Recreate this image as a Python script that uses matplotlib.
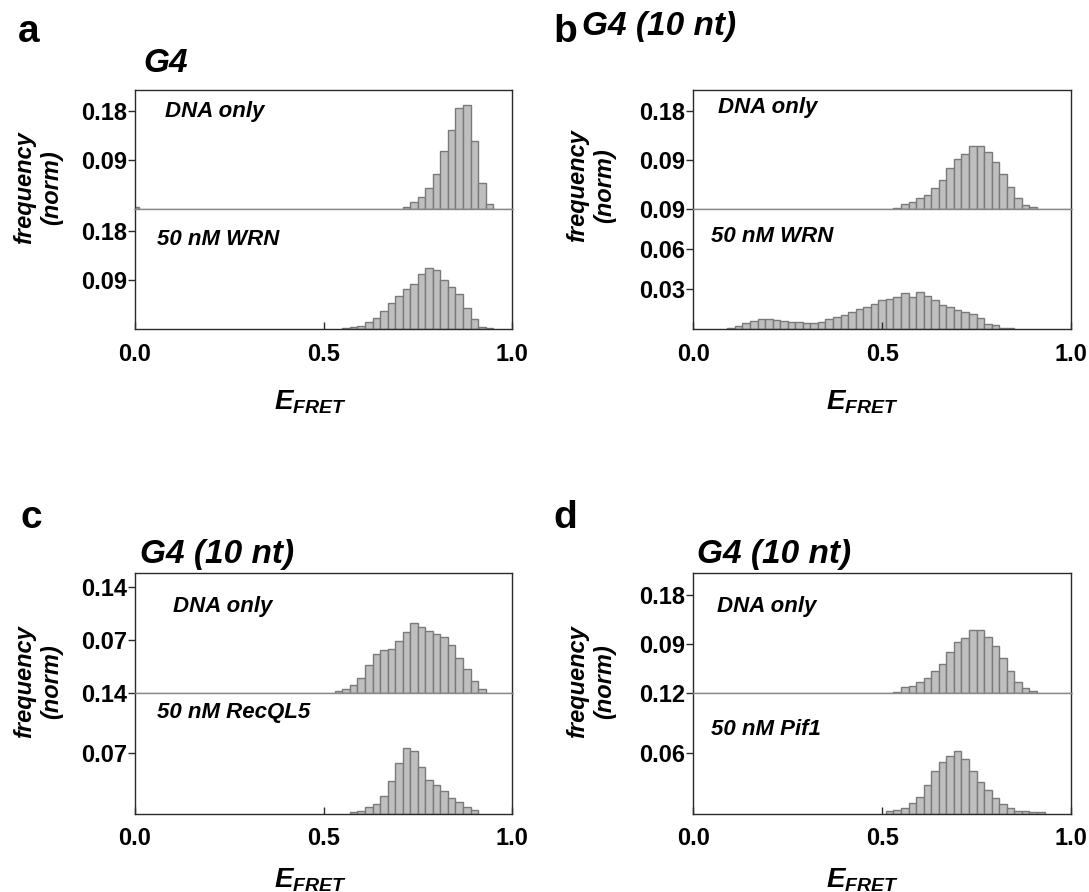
import numpy as np
import matplotlib
matplotlib.use("Agg")
import matplotlib.pyplot as plt

plt.rcParams["font.family"] = ["Liberation Sans", "DejaVu Sans"]
plt.rcParams["font.weight"] = "bold"
plt.rcParams["mathtext.fontset"] = "custom"
plt.rcParams["mathtext.it"] = "Liberation Sans:bold:italic"
plt.rcParams["mathtext.rm"] = "Liberation Sans:bold"

BIN_W = 0.02

# ---- data: bin centres (E_FRET) and normalised frequencies ----
a_top_x = [0.00] + [0.72, 0.74, 0.76, 0.78, 0.80, 0.82, 0.84, 0.86, 0.88, 0.90, 0.92, 0.94]
a_top_y = [0.003, 0.004, 0.012, 0.021, 0.038, 0.064, 0.106, 0.144, 0.185, 0.190, 0.124, 0.047, 0.008]

a_bot_x = [0.56, 0.58, 0.60, 0.62, 0.64, 0.66, 0.68, 0.70, 0.72, 0.74,
           0.76, 0.78, 0.80, 0.82, 0.84, 0.86, 0.88, 0.90, 0.92, 0.94]
a_bot_y = [0.002, 0.004, 0.006, 0.013, 0.021, 0.034, 0.048, 0.061, 0.074, 0.084,
           0.101, 0.112, 0.108, 0.090, 0.078, 0.064, 0.040, 0.018, 0.004, 0.002]

b_top_x = [0.54, 0.56, 0.58, 0.60, 0.62, 0.64, 0.66, 0.68, 0.70, 0.72,
           0.74, 0.76, 0.78, 0.80, 0.82, 0.84, 0.86, 0.88, 0.90]
b_top_y = [0.002, 0.009, 0.012, 0.019, 0.026, 0.038, 0.052, 0.074, 0.091, 0.101,
           0.116, 0.116, 0.104, 0.086, 0.064, 0.039, 0.020, 0.007, 0.0025]

b_bot_x = [0.10, 0.12, 0.14, 0.16, 0.18, 0.20, 0.22, 0.24, 0.26, 0.28,
           0.30, 0.32, 0.34, 0.36, 0.38, 0.40, 0.42, 0.44, 0.46, 0.48,
           0.50, 0.52, 0.54, 0.56, 0.58, 0.60, 0.62, 0.64, 0.66, 0.68,
           0.70, 0.72, 0.74, 0.76, 0.78, 0.80, 0.82, 0.84]
b_bot_y = [0.0007, 0.0025, 0.0045, 0.0064, 0.0074, 0.0074, 0.0067, 0.0064, 0.0057, 0.0057,
           0.0045, 0.0047, 0.0057, 0.0074, 0.0089, 0.0107, 0.0126, 0.0151, 0.0169, 0.0188,
           0.0218, 0.0228, 0.0240, 0.0268, 0.0243, 0.0280, 0.0248, 0.0218, 0.0181, 0.0169,
           0.0144, 0.0131, 0.0112, 0.0082, 0.0037, 0.0030, 0.0007, 0.0007]

c_top_x = [0.54, 0.56, 0.58, 0.60, 0.62, 0.64, 0.66, 0.68, 0.70, 0.72,
           0.74, 0.76, 0.78, 0.80, 0.82, 0.84, 0.86, 0.88, 0.90, 0.92]
c_top_y = [0.0022, 0.0048, 0.010, 0.0197, 0.0363, 0.0516, 0.056, 0.0573, 0.0678, 0.080,
           0.0919, 0.0866, 0.0814, 0.077, 0.0735, 0.0626, 0.0464, 0.0315, 0.0153, 0.0053]

c_bot_x = [0.58, 0.60, 0.62, 0.64, 0.66, 0.68, 0.70, 0.72, 0.74,
           0.76, 0.78, 0.80, 0.82, 0.84, 0.86, 0.88, 0.90]
c_bot_y = [0.0012, 0.0032, 0.0072, 0.0108, 0.020, 0.0376, 0.0588, 0.076, 0.0728,
           0.054, 0.0392, 0.0332, 0.026, 0.018, 0.0132, 0.008, 0.004]

d_top_x = b_top_x
d_top_y = [0.002, 0.010, 0.013, 0.019, 0.027, 0.039, 0.052, 0.075, 0.0925, 0.101,
           0.116, 0.116, 0.103, 0.086, 0.064, 0.039, 0.019, 0.008, 0.0025]

d_bot_x = [0.52, 0.54, 0.56, 0.58, 0.60, 0.62, 0.64, 0.66, 0.68, 0.70, 0.72,
           0.74, 0.76, 0.78, 0.80, 0.82, 0.84, 0.86, 0.88, 0.90, 0.92]
d_bot_y = [0.0024, 0.0037, 0.0051, 0.0102, 0.0169, 0.0288, 0.0424, 0.0515, 0.057, 0.062, 0.0542,
           0.0424, 0.0315, 0.023, 0.0159, 0.0092, 0.0051, 0.0024, 0.0024, 0.001, 0.001]

panels = [
    # letter, title, top/bottom series, labels, y-axis setup
    dict(letter="a", title="G4", top=(a_top_x, a_top_y), bot=(a_bot_x, a_bot_y),
         top_lab="DNA only", bot_lab="50 nM WRN",
         top_ylim=0.218, top_ticks=[0.09, 0.18], top_tl=["0.09", "0.18"],
         bot_ylim=0.2215, bot_ticks=[0.09, 0.18], bot_tl=["0.09", "0.18"]),
    dict(letter="b", title="G4 (10 nt)", top=(b_top_x, b_top_y), bot=(b_bot_x, b_bot_y),
         top_lab="DNA only", bot_lab="50 nM WRN",
         top_ylim=0.218, top_ticks=[0.09, 0.18], top_tl=["0.09", "0.18"],
         bot_ylim=0.0902, bot_ticks=[0.03, 0.06, 0.09], bot_tl=["0.03", "0.06", "0.09"]),
    dict(letter="c", title="G4 (10 nt)", top=(c_top_x, c_top_y), bot=(c_bot_x, c_bot_y),
         top_lab="DNA only", bot_lab="50 nM RecQL5",
         top_ylim=0.158, top_ticks=[0.07, 0.14], top_tl=["0.07", "0.14"],
         bot_ylim=0.1405, bot_ticks=[0.07, 0.14], bot_tl=["0.07", "0.14"]),
    dict(letter="d", title="G4 (10 nt)", top=(d_top_x, d_top_y), bot=(d_bot_x, d_bot_y),
         top_lab="DNA only", bot_lab="50 nM Pif1",
         top_ylim=0.220, top_ticks=[0.09, 0.18], top_tl=["0.09", "0.18"],
         bot_ylim=0.1205, bot_ticks=[0.06, 0.12], bot_tl=["0.06", "0.12"]),
]

W, H = 1089, 892
# pixel layout (left, right, top, divider, bottom) for each panel
boxes = [(135, 512, 90, 208.7, 329.3), (693.3, 1071, 90, 208.7, 329.3),
         (135, 512, 573, 692.7, 813.5), (693.3, 1071, 573, 692.7, 813.5)]
# text anchors in pixels
letter_pos = [(18, 42), (553, 42), (20, 528), (553, 528)]
title_pos = [(143, 72), (582, 35), (140, 563), (697, 563)]
ylab_pos = [(38, 188), (591, 186), (38, 682), (591, 682)]
xlab_pos = [(310, 402), (862, 402), (310, 880), (862, 880)]
top_lab_pos = [(0.08, 0.773), (0.065, 0.809), (0.102, 0.677), (0.064, 0.677)]
bot_lab_pos = [(0.058, 0.699), (0.046, 0.726), (0.058, 0.788), (0.046, 0.650)]

BAR_FC = "#bfbfbf"
BAR_EC = "#7a7a7a"
SPINE = "#2a2a2a"
DIV = "#888888"

fig = plt.figure(figsize=(W / 100, H / 100), dpi=100)


def fx(px):
    return px / W


def fy(py):
    return 1 - py / H


for i, p in enumerate(panels):
    l, r, t, m, b = boxes[i]
    ax_t = fig.add_axes([fx(l), fy(m), (r - l) / W, (m - t) / H])
    ax_b = fig.add_axes([fx(l), fy(b), (r - l) / W, (b - m) / H])

    for ax, (xs, ys), ylim, ticks, tl in [
        (ax_t, p["top"], p["top_ylim"], p["top_ticks"], p["top_tl"]),
        (ax_b, p["bot"], p["bot_ylim"], p["bot_ticks"], p["bot_tl"]),
    ]:
        ax.bar(xs, ys, width=BIN_W, color=BAR_FC, edgecolor=BAR_EC, linewidth=1.0)
        ax.set_xlim(0, 1)
        ax.set_ylim(0, ylim)
        ax.set_yticks(ticks)
        ax.set_yticklabels(tl, fontsize=17, fontweight="bold")
        ax.tick_params(axis="y", direction="out", length=5, width=1, pad=1, color=SPINE)
        for s in ax.spines.values():
            s.set_color(SPINE)
            s.set_linewidth(1.0)

    ax_t.set_xticks([])
    ax_t.spines["bottom"].set_color(DIV)
    ax_b.spines["top"].set_color(DIV)
    ax_b.set_xticks([0.0, 0.5, 1.0])
    ax_b.set_xticklabels(["0.0", "0.5", "1.0"], fontsize=17, fontweight="bold")
    ax_b.tick_params(axis="x", direction="in", length=5, width=1, pad=10, color=SPINE)

    ax_t.text(*top_lab_pos[i], p["top_lab"], transform=ax_t.transAxes,
              fontsize=16, fontweight="bold", style="italic", va="baseline", ha="left")
    ax_b.text(*bot_lab_pos[i], p["bot_lab"], transform=ax_b.transAxes,
              fontsize=16, fontweight="bold", style="italic", va="baseline", ha="left")

    fig.text(fx(letter_pos[i][0]), fy(letter_pos[i][1]), p["letter"],
             fontsize=28, fontweight="bold", ha="left", va="baseline")
    fig.text(fx(title_pos[i][0]), fy(title_pos[i][1]), p["title"],
             fontsize=24, fontweight="bold", style="italic", ha="left", va="baseline")
    fig.text(fx(ylab_pos[i][0]), fy(ylab_pos[i][1]), "frequency\n(norm)",
             fontsize=17, fontweight="bold", style="italic", rotation=90,
             ha="center", va="center", multialignment="center", linespacing=1.25)
    fig.text(fx(xlab_pos[i][0]), fy(xlab_pos[i][1]), r"$E_{FRET}$",
             fontsize=20, ha="center", va="center")

fig.savefig("out.png", dpi=100)
